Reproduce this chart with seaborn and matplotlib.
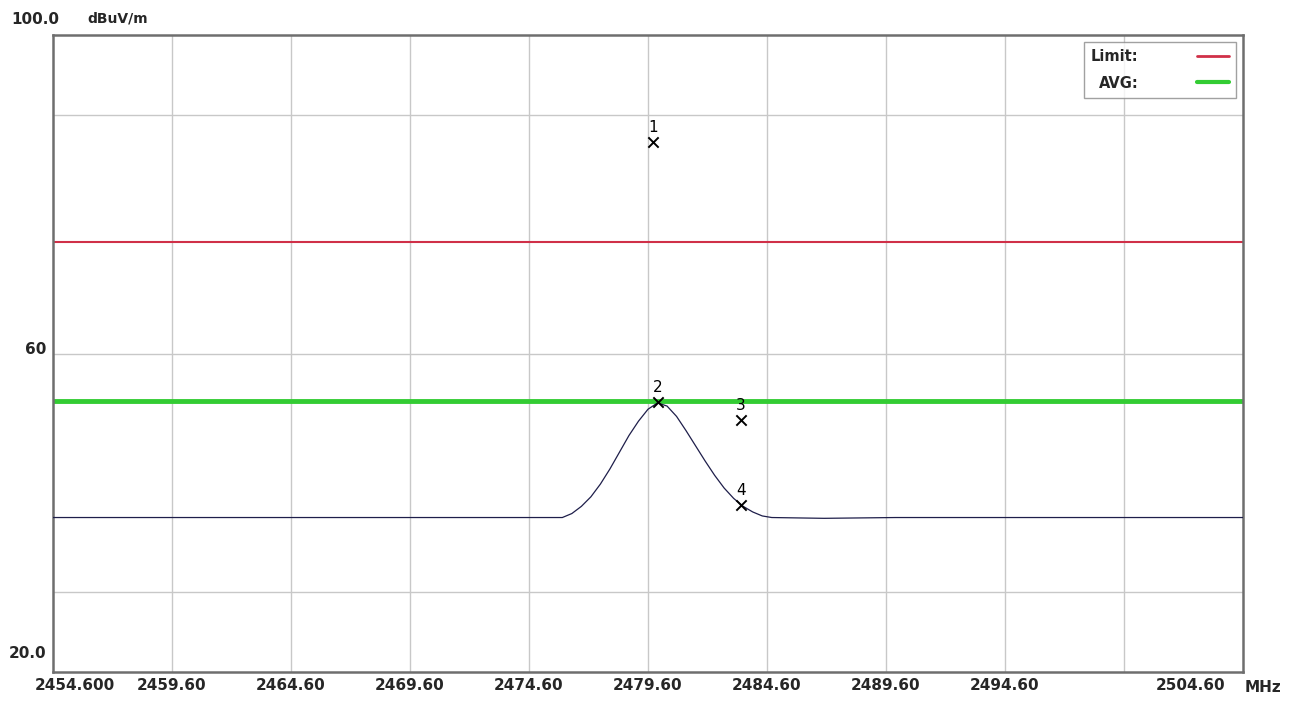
import matplotlib
matplotlib.use("Agg")
import matplotlib.pyplot as plt
import matplotlib.transforms as mtransforms
import seaborn as sns
import pandas as pd

# measured trace (MHz, dBuV/m)
freq = [2454.6, 2476.0, 2476.4, 2476.8, 2477.2, 2477.6, 2478.0, 2478.4, 2478.8,
        2479.2, 2479.6, 2480.0, 2480.4, 2480.8, 2481.2, 2481.6, 2482.0, 2482.4,
        2482.8, 2483.2, 2483.6, 2484.0, 2484.4, 2484.8, 2487.0, 2490.0, 2504.6]
level = [39.4, 39.4, 39.9, 40.8, 42.0, 43.6, 45.5, 47.6, 49.7,
         51.5, 53.0, 53.8, 53.4, 52.1, 50.3, 48.4, 46.5, 44.7,
         43.1, 41.8, 40.8, 40.1, 39.6, 39.4, 39.3, 39.4, 39.4]

limit_level = 74.0
avg_level = 54.0

marker_freq = [2479.8, 2480.0, 2483.5, 2483.5]
marker_level = [86.6, 53.9, 51.7, 41.0]
marker_names = ["1", "2", "3", "4"]

x_ticks = [2454.6, 2459.6, 2464.6, 2469.6, 2474.6, 2479.6, 2484.6, 2489.6, 2494.6, 2499.6, 2504.6]
x_labels = ["2454.600", "2459.60", "2464.60", "2469.60", "2474.60", "2479.60",
            "2484.60", "2489.60", "2494.60", "", "2504.60"]
y_ticks = [20, 60, 100]
y_labels = ["20.0", "60", "100.0"]
y_grid = [30, 60, 90]

sns.set_style("white")
plt.rcParams["font.family"] = ["DejaVu Sans"]

fig = plt.figure(figsize=(12.98, 7.02), dpi=100)
ax = fig.add_axes([53 / 1298, 30 / 702, 1190 / 1298, 637 / 702])

# grid
for xv in x_ticks[1:-1]:
    ax.axvline(xv, color="#c8c8c8", lw=1, zorder=0)
for yv in y_grid:
    ax.axhline(yv, color="#c8c8c8", lw=1, zorder=0)

ax.axhline(limit_level, color="#d03048", lw=1.5, label="Limit:", zorder=2)
ax.axhline(avg_level, color="#33cc33", lw=3.5, label="AVG:", zorder=2)

df = pd.DataFrame({"freq": freq, "level": level})
sns.lineplot(data=df, x="freq", y="level", color="#1e1e4a", lw=0.9, ax=ax,
             zorder=3, legend=False)

mk = pd.DataFrame({"freq": marker_freq, "level": marker_level})
sns.scatterplot(data=mk, x="freq", y="level", marker="x", color="black", s=55,
                linewidth=1.4, ax=ax, zorder=4, legend=False)
for f, l, n in zip(marker_freq, marker_level, marker_names):
    ax.annotate(n, (f, l), xytext=(0, 5), textcoords="offset points",
                ha="center", va="bottom", fontsize=11, color="black")

ax.set_xlim(x_ticks[0], x_ticks[-1])
ax.set_ylim(y_ticks[0], y_ticks[-1])
ax.set_xlabel("")
ax.set_ylabel("")

ax.set_xticks(x_ticks)
ax.set_xticklabels(x_labels, fontsize=11, fontweight="bold")
ax.set_yticks(y_ticks)
ax.set_yticklabels(y_labels, fontsize=11, fontweight="bold")
ax.tick_params(axis="both", length=0)
ax.tick_params(axis="x", pad=4)
ax.tick_params(axis="y", pad=5)


def shift(lbl, dx_px, dy_px):
    off = mtransforms.ScaledTranslation(dx_px / 100, dy_px / 100, fig.dpi_scale_trans)
    lbl.set_transform(lbl.get_transform() + off)


xl = ax.get_xticklabels()
xl[0].set_ha("left")
shift(xl[0], -18, 0)
xl[-1].set_ha("right")
shift(xl[-1], -18, 0)

yl = ax.get_yticklabels()
shift(yl[0], 0, 20)
shift(yl[1], 0, 6)
shift(yl[2], 13, 17)

ax.annotate("MHz", (1, 0), xycoords="axes fraction", xytext=(2, -15),
            textcoords="offset pixels", ha="left", va="center",
            fontsize=11, fontweight="bold")
ax.annotate("dBuV/m", (0, 1), xycoords="axes fraction", xytext=(34, 17),
            textcoords="offset pixels", ha="left", va="center",
            fontsize=10, fontweight="bold")

for s in ax.spines.values():
    s.set_color("#6e6e6e")
    s.set_linewidth(1.8)

leg = ax.legend(loc="upper right", bbox_to_anchor=(1, 1), markerfirst=False,
                fancybox=False, frameon=True, fontsize=10.5, handlelength=2.2,
                handletextpad=4.0, borderaxespad=0.45, labelspacing=0.8,
                borderpad=0.5)
leg.get_frame().set_edgecolor("#8a8a8a")
leg.get_frame().set_linewidth(1)
for t in leg.get_texts():
    t.set_fontweight("bold")
for h in leg.get_lines():
    h.set_linewidth(2 if h.get_label() == "Limit:" else 3)

fig.savefig("out.png", dpi=100)
